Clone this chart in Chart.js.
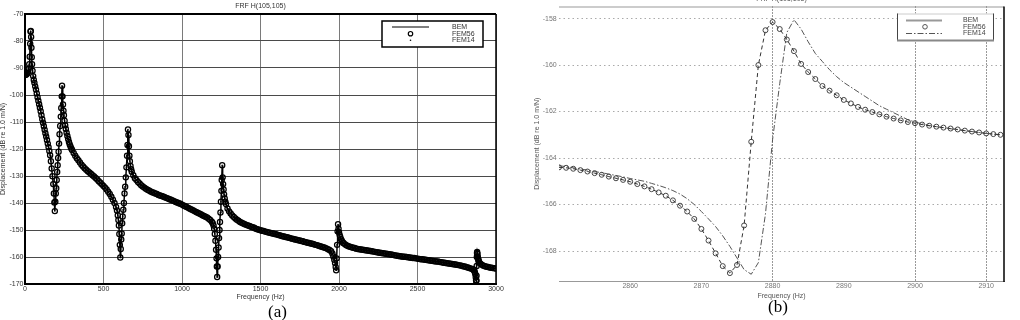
<!DOCTYPE html>
<html><head><meta charset="utf-8">
<script src="https://cdn.jsdelivr.net/npm/chart.js@4.4.1/dist/chart.umd.min.js"></script>
<style>
html,body{margin:0;padding:0;background:#fff;width:1020px;height:320px;overflow:hidden}
#wa{position:absolute;left:0;top:0;width:510px;height:320px}
#wb{position:absolute;left:510px;top:0;width:510px;height:320px}
.lab{position:absolute;font-family:"Liberation Serif","DejaVu Serif",serif;font-size:17px;line-height:17px;color:#000}
</style></head><body>
<div id="wa"><canvas id="ca" width="510" height="320"></canvas></div>
<div id="wb"><canvas id="cb" width="510" height="320"></canvas></div>
<div class="lab" style="left:268px;top:303px">(a)</div>
<div class="lab" style="left:768px;top:298px">(b)</div>
<script>
// ---------- (a) full-band FRF ----------
const freqA = [
 0,5,10,15,20,24,27,30,33,35,
 37,39,41,43,45,48,52,56,60,65,
 70,75,80,85,90,95,100,105,110,115,
 120,125,130,135,140,145,150,155,160,165,
 170,175,180,184,187,190,193,196,199,202,
 205,208,211,214,217,220,224,228,231,234,
 236,239,242,245,248,252,256,260,265,270,
 275,280,285,290,295,300,310,320,330,340,
 350,360,370,380,
 390,400,410,420,430,440,450,460,470,480,
 490,500,510,520,530,540,550,560,570,580,
 586,591,595,598,601,604,607,610,613,616,
 619,622,626,630,634,638,642,646,650,653,
 656,659,662,665,668,672,676,680,690,700,
 710,720,730,740,750,760,770,780,790,800,
 810,820,830,840,850,860,870,880,890,900,
 910,920,930,940,950,960,970,980,990,1000,
 1010,1020,1030,1040,1050,1060,1070,1080,1090,1100,
 1110,1120,1130,1140,1150,1160,1170,1180,1190,1196,
 1201,1205,1209,1213,1217,1220,1222,1224,1227,1230,
 1233,1236,1239,1242,1245,1248,1251,1253,1256,1259,
 1262,1265,1268,1272,1276,1280,1290,1300,1310,1320,
 1330,1340,1350,1360,1370,1380,1390,1400,1410,1420,
 1430,1440,1450,1460,1470,1480,1490,1500,1510,1520,
 1530,1540,1550,1560,1570,1580,1590,1600,1610,1620,
 1630,1640,1650,1660,1670,1680,1690,1700,1710,1720,
 1730,1740,1750,1760,1770,1780,1790,1800,1810,1820,
 1830,1840,1850,1860,1870,1880,1890,1900,1910,1920,
 1930,1940,1950,1958,1964,1970,1975,1979,1982,1985,
 1988,1991,1994,1997,2000,2004,2008,2013,2018,2025,
 2030,2040,2050,2060,2070,2080,2090,2100,2110,2120,
 2130,2140,2150,2160,2170,2180,2190,2200,2210,2220,
 2230,2240,2250,2260,2270,2280,2290,2300,2310,2320,
 2330,2340,2350,2360,2370,2380,2390,2400,2410,2420,
 2430,2440,2450,2460,2470,2480,2490,2500,2510,2520,
 2530,2540,2550,2560,2570,2580,2590,2600,2610,2620,
 2630,2640,2650,2660,2670,2680,2690,2700,2710,2720,
 2730,2740,2750,2760,2770,2780,2790,2800,2810,2820,
 2830,2840,2850,2855,2860,2865,2868,2871,2873,2874,
 2875,2876,2877,2878,2879,2880,2882,2884,2886,2888,
 2890,2895,2900,2910,2920,2930,2940,2950,2960,2970,
 2980,2990,3000
];
const bemA = [
 -92.6,-92.5,-92.3,-91.9,-91.3,-90.2,-88.6,-85.8,-81.0,-76.5,
 -76.3,-78.5,-82.5,-86.0,-88.6,-91.0,-93.0,-94.4,-95.5,-96.8,
 -98.0,-99.4,-100.8,-102.1,-103.4,-104.7,-106.0,-107.5,-109.0,-110.3,
 -111.6,-112.9,-114.2,-115.4,-116.7,-118.0,-119.3,-120.7,-122.3,-124.5,
 -127.2,-130.1,-133.0,-136.5,-139.8,-143.0,-139.5,-136.5,-134.5,-131.5,
 -128.5,-126.0,-123.3,-121.0,-118.0,-114.5,-111.5,-108.0,-104.8,-100.5,
 -96.6,-100.5,-103.5,-105.8,-107.5,-109.5,-111.2,-112.6,-114.0,-115.2,
 -116.3,-117.4,-118.3,-119.1,-119.8,-120.4,-121.5,-122.5,-123.4,-124.2,
 -125.0,-125.8,-126.5,-127.1,
 -127.7,-128.2,-128.7,-129.2,-129.7,-130.2,-130.7,-131.3,-131.9,-132.5,
 -133.1,-133.7,-134.3,-135.0,-135.8,-136.7,-137.7,-138.8,-140.0,-141.5,
 -142.8,-144.5,-146.3,-148.3,-151.5,-155.5,-160.2,-157.0,-153.5,-151.3,
 -147.5,-145.0,-142.5,-140.0,-136.5,-134.0,-130.5,-126.8,-122.5,-118.5,
 -112.8,-114.8,-119.0,-122.5,-124.5,-126.3,-127.5,-128.4,-129.7,-130.8,
 -131.5,-132.2,-132.8,-133.4,-133.9,-134.3,-134.7,-135.1,-135.4,-135.7,
 -136.0,-136.2,-136.5,-136.7,-137.0,-137.2,-137.4,-137.6,-137.9,-138.1,
 -138.3,-138.6,-138.8,-139.1,-139.3,-139.6,-139.8,-140.1,-140.3,-140.6,
 -140.9,-141.2,-141.5,-141.8,-142.1,-142.4,-142.7,-143.0,-143.3,-143.6,
 -143.9,-144.2,-144.5,-144.8,-145.1,-145.4,-145.8,-146.3,-146.9,-147.5,
 -148.3,-149.5,-151.5,-154.0,-157.3,-160.5,-163.5,-167.4,-163.5,-160.0,
 -156.5,-153.0,-150.0,-147.0,-143.5,-139.5,-135.5,-131.5,-126.0,-130.5,
 -133.0,-135.0,-136.8,-138.3,-139.5,-140.4,-142.0,-143.1,-143.9,-144.6,
 -145.2,-145.7,-146.2,-146.6,-147.0,-147.3,-147.6,-147.9,-148.1,-148.3,
 -148.5,-148.8,-149.0,-149.2,-149.5,-149.7,-149.9,-150.1,-150.3,-150.4,
 -150.6,-150.7,-150.9,-151.0,-151.2,-151.3,-151.5,-151.6,-151.8,-151.9,
 -152.1,-152.3,-152.4,-152.6,-152.7,-152.9,-153.0,-153.2,-153.3,-153.5,
 -153.6,-153.8,-153.9,-154.1,-154.2,-154.4,-154.5,-154.7,-154.8,-155.0,
 -155.1,-155.3,-155.5,-155.6,-155.8,-156.0,-156.2,-156.4,-156.6,-156.8,
 -157.1,-157.4,-157.9,-158.7,-159.8,-161.0,-162.2,-163.7,-164.9,-160.5,
 -155.5,-150.5,-147.9,-149.5,-150.8,-151.8,-152.6,-153.4,-154.0,-154.6,
 -154.9,-155.4,-155.7,-156.0,-156.2,-156.4,-156.6,-156.7,-156.9,-157.0,
 -157.1,-157.2,-157.3,-157.4,-157.5,-157.6,-157.7,-157.8,-157.9,-158.0,
 -158.1,-158.2,-158.3,-158.4,-158.5,-158.6,-158.7,-158.8,-158.9,-159.0,
 -159.1,-159.2,-159.3,-159.4,-159.5,-159.6,-159.7,-159.8,-159.9,-159.9,
 -160.0,-160.1,-160.2,-160.3,-160.4,-160.4,-160.5,-160.6,-160.7,-160.8,
 -160.8,-160.9,-161.0,-161.1,-161.2,-161.3,-161.4,-161.5,-161.6,-161.7,
 -161.7,-161.8,-161.9,-162.0,-162.1,-162.2,-162.3,-162.4,-162.5,-162.6,
 -162.7,-162.8,-162.9,-163.0,-163.1,-163.2,-163.4,-163.5,-163.7,-163.9,
 -164.1,-164.3,-164.4,-164.65,-165.0,-165.6,-166.3,-167.5,-168.6,-168.95,
 -168.6,-166.9,-163.3,-160.0,-158.5,-158.15,-158.9,-159.9,-160.6,-161.1,
 -161.5,-162.1,-162.5,-162.9,-163.2,-163.4,-163.6,-163.7,-163.9,-164.0,
 -164.1,-164.2,-164.3
];
// In (a) the two FE models lie on top of the BEM curve
const fem56A = bemA;
const fem14A = bemA;
const xTicksA = [0,500,1000,1500,2000,2500,3000];
const yTicksA = [-170,-160,-150,-140,-130,-120,-110,-100,-90,-80,-70];

// ---------- (b) zoom around 2880 Hz ----------
const freqB = [
 2850,2851,2852,2853,2854,2855,2856,2857,2858,2859,
 2860,2861,2862,2863,2864,2865,2866,2867,2868,2869,
 2870,2871,2872,2873,2874,2875,2876,2877,2878,2879,
 2880,2881,2882,2883,2884,2885,2886,2887,2888,2889,
 2890,2891,2892,2893,2894,2895,2896,2897,2898,2899,
 2900,2901,2902,2903,2904,2905,2906,2907,2908,2909,
 2910,2911,2912
];
const bemB = [
 -164.40,-164.42,-164.46,-164.52,-164.58,-164.65,-164.72,-164.80,-164.87,-164.94,
 -165.02,-165.12,-165.22,-165.34,-165.48,-165.62,-165.82,-166.05,-166.30,-166.62,
 -167.05,-167.55,-168.10,-168.65,-168.95,-168.60,-166.90,-163.30,-160.00,-158.50,
 -158.15,-158.45,-158.90,-159.40,-159.95,-160.30,-160.60,-160.90,-161.10,-161.30,
 -161.50,-161.65,-161.80,-161.92,-162.02,-162.12,-162.22,-162.30,-162.38,-162.45,
 -162.50,-162.56,-162.61,-162.65,-162.69,-162.73,-162.77,-162.82,-162.86,-162.90,
 -162.94,-162.97,-163.00
];
const fem56B = bemB;
const fem14B = [
 -164.33,-164.37,-164.42,-164.47,-164.52,-164.58,-164.63,-164.69,-164.75,-164.81,
 -164.88,-164.94,-165.00,-165.09,-165.18,-165.28,-165.40,-165.55,-165.75,-166.00,
 -166.30,-166.62,-166.95,-167.35,-167.80,-168.30,-168.80,-169.00,-168.50,-166.40,
 -163.20,-160.80,-158.60,-158.05,-158.45,-159.00,-159.50,-159.85,-160.20,-160.50,
 -160.75,-160.95,-161.15,-161.35,-161.55,-161.75,-161.90,-162.05,-162.20,-162.35,
 -162.45,-162.53,-162.60,-162.65,-162.70,-162.74,-162.78,-162.82,-162.86,-162.90,
 -162.94,-162.97,-163.00
];
const xTicksB = [2860,2870,2880,2890,2900,2910];
const xGridShownB = [2880,2900,2910];
const yTicksB = [-168,-166,-164,-162,-160,-158];

const titleText = 'FRF H(105,105)';
const xTitle = 'Frequency (Hz)';
const yTitle = 'Displacement (dB re 1.0 m/N)';
const seriesNames = ['BEM','FEM56','FEM14'];

const FONT = '"Liberation Sans", Arial, sans-serif';
const pts = (xs, ys) => xs.map((x, i) => ({x: x, y: ys[i]}));
const setTicks = arr => (s => { s.ticks = arr.map(v => ({value: v})); });

// ---------- chart (a) ----------
const plugA = {
  id: 'decorA',
  afterDraw(chart) {
    const c = chart.ctx, a = chart.chartArea;
    c.save();
    c.strokeStyle = '#000';
    c.lineWidth = 2;
    c.beginPath(); c.moveTo(a.left - 1, a.top); c.lineTo(a.right, a.top); c.stroke();
    c.lineWidth = 1.5;
    c.beginPath(); c.moveTo(a.right, a.top); c.lineTo(a.right, a.bottom); c.stroke();
    c.fillStyle = '#333';
    c.font = '7px ' + FONT;
    c.textAlign = 'center'; c.textBaseline = 'middle';
    c.fillText(titleText, (a.left + a.right) / 2, 6.5);
    const bx = a.right - 114, by = a.top + 7, bw = 101, bh = 26;
    c.fillStyle = '#fff';
    c.fillRect(bx, by, bw, bh);
    c.strokeStyle = '#000'; c.lineWidth = 1.5;
    c.strokeRect(bx, by, bw, bh);
    c.strokeStyle = '#555'; c.lineWidth = 1.5;
    c.beginPath(); c.moveTo(bx + 10, by + 6); c.lineTo(bx + 47, by + 6); c.stroke();
    c.strokeStyle = '#000'; c.lineWidth = 1.2;
    c.beginPath(); c.arc(bx + 28.5, by + 12.7, 2.2, 0, Math.PI * 2); c.stroke();
    c.fillStyle = '#000';
    c.beginPath(); c.arc(bx + 28.5, by + 19.3, 0.8, 0, Math.PI * 2); c.fill();
    c.fillStyle = '#333'; c.textAlign = 'left';
    c.fillText(seriesNames[0], bx + 70, by + 6);
    c.fillText(seriesNames[1], bx + 70, by + 12.7);
    c.fillText(seriesNames[2], bx + 70, by + 19.3);
    c.restore();
  }
};

new Chart(document.getElementById('ca'), {
  type: 'line',
  data: {
    datasets: [
      {label: seriesNames[0], data: pts(freqA, bemA), borderColor: '#000', borderWidth: 1.5,
       pointRadius: 0, tension: 0, fill: false},
      {label: seriesNames[1], data: pts(freqA, fem56A), showLine: false, pointRadius: 2.6,
       pointStyle: 'circle', pointBorderColor: '#000', pointBackgroundColor: 'rgba(0,0,0,0)', pointBorderWidth: 1.25},
      {label: seriesNames[2], data: pts(freqA, fem14A), showLine: false, pointRadius: 0.7,
       pointBorderWidth: 0, pointBackgroundColor: '#000'}
    ]
  },
  options: {
    responsive: false, animation: false, events: [], devicePixelRatio: 1,
    layout: {padding: {left: 0, right: 14, top: 14, bottom: 0}},
    plugins: {legend: {display: false}, title: {display: false}, tooltip: {enabled: false}},
    scales: {
      x: {
        type: 'linear', min: 0, max: 3000,
        afterBuildTicks: setTicks(xTicksA),
        afterFit: s => { s.height = 36; },
        ticks: {font: {family: FONT, size: 7}, color: '#333', padding: 1, maxRotation: 0, autoSkip: false,
                callback: v => String(v)},
        grid: {color: '#7a7a7a', lineWidth: 1, drawTicks: false},
        border: {color: '#000', width: 2},
        title: {display: true, text: xTitle, font: {family: FONT, size: 7}, color: '#333',
                padding: {top: 0, bottom: 18.3}}
      },
      y: {
        type: 'linear', min: -170, max: -70,
        afterBuildTicks: setTicks(yTicksA),
        afterFit: s => { s.width = 25; },
        ticks: {font: {family: FONT, size: 7}, color: '#333', padding: 1.5, autoSkip: false,
                callback: v => String(v)},
        grid: {color: '#4a4a4a', lineWidth: 1, drawTicks: false},
        border: {color: '#000', width: 2},
        title: {display: true, text: yTitle, font: {family: FONT, size: 7}, color: '#333',
                padding: {top: -1.2, bottom: 0}}
      }
    }
  },
  plugins: [plugA]
});

// ---------- chart (b) ----------
const plugB = {
  id: 'decorB',
  afterDraw(chart) {
    const c = chart.ctx, a = chart.chartArea;
    c.save();
    c.strokeStyle = '#999'; c.lineWidth = 1;
    c.beginPath(); c.moveTo(a.left, a.top + 0.5); c.lineTo(a.right, a.top + 0.5); c.stroke();
    c.strokeStyle = '#000'; c.lineWidth = 1.5;
    c.beginPath(); c.moveTo(a.right, a.top); c.lineTo(a.right, a.bottom + 1); c.stroke();
    c.fillStyle = '#555';
    c.font = '7px ' + FONT;
    c.textAlign = 'center'; c.textBaseline = 'middle';
    c.fillText(titleText, (a.left + a.right) / 2, -0.5);
    const bx = a.right - 107, by = a.top + 7, bw = 97, bh = 27;
    c.fillStyle = '#fff';
    c.fillRect(bx, by, bw, bh);
    c.strokeStyle = '#ccc'; c.lineWidth = 1;
    c.beginPath(); c.moveTo(bx, by + 0.5); c.lineTo(bx + bw, by + 0.5); c.stroke();
    c.strokeStyle = '#444';
    c.beginPath(); c.moveTo(bx + 0.5, by); c.lineTo(bx + 0.5, by + bh); c.stroke();
    c.beginPath(); c.moveTo(bx + bw - 0.5, by); c.lineTo(bx + bw - 0.5, by + bh); c.stroke();
    c.strokeStyle = '#888'; c.lineWidth = 2;
    c.beginPath(); c.moveTo(bx, by + bh); c.lineTo(bx + bw, by + bh); c.stroke();
    c.strokeStyle = '#999'; c.lineWidth = 2;
    c.beginPath(); c.moveTo(bx + 9, by + 7); c.lineTo(bx + 45, by + 7); c.stroke();
    c.strokeStyle = '#555'; c.lineWidth = 1;
    c.beginPath(); c.arc(bx + 28, by + 13.3, 2.3, 0, Math.PI * 2); c.stroke();
    c.setLineDash([6, 2, 1.5, 2]);
    c.beginPath(); c.moveTo(bx + 9, by + 20); c.lineTo(bx + 45, by + 20); c.stroke();
    c.setLineDash([]);
    c.fillStyle = '#444'; c.textAlign = 'left';
    c.fillText(seriesNames[0], bx + 66, by + 7);
    c.fillText(seriesNames[1], bx + 66, by + 13.5);
    c.fillText(seriesNames[2], bx + 66, by + 20);
    c.restore();
  }
};

new Chart(document.getElementById('cb'), {
  type: 'line',
  data: {
    datasets: [
      {label: seriesNames[0], data: pts(freqB, bemB), borderColor: '#333', borderWidth: 1,
       borderDash: [4, 3], pointRadius: 0, tension: 0, fill: false},
      {label: seriesNames[1], data: pts(freqB, fem56B), showLine: false, pointRadius: 2.5,
       pointStyle: 'circle', pointBorderColor: '#444', pointBackgroundColor: 'rgba(0,0,0,0)', pointBorderWidth: 1},
      {label: seriesNames[2], data: pts(freqB, fem14B), borderColor: '#555', borderWidth: 1,
       borderDash: [6, 2, 1.5, 2], pointRadius: 0, tension: 0, fill: false}
    ]
  },
  options: {
    responsive: false, animation: false, events: [], devicePixelRatio: 1,
    layout: {padding: {left: 0, right: 16, top: 6, bottom: 0}},
    plugins: {legend: {display: false}, title: {display: false}, tooltip: {enabled: false}},
    scales: {
      x: {
        type: 'linear', min: 2850, max: 2912.5,
        afterBuildTicks: setTicks(xTicksB),
        afterFit: s => { s.height = 39; },
        ticks: {font: {family: FONT, size: 7}, color: '#777', padding: 0.5, maxRotation: 0, autoSkip: false,
                callback: v => String(v)},
        grid: {color: ctx => (ctx.tick && xGridShownB.includes(ctx.tick.value)) ? '#333' : 'rgba(0,0,0,0)',
               lineWidth: 1, drawTicks: false},
        border: {display: true, color: '#999', width: 1, dash: [1, 2]},
        title: {display: true, text: xTitle, font: {family: FONT, size: 7}, color: '#555',
                padding: {top: 0, bottom: 20}}
      },
      y: {
        type: 'linear', min: -169.29, max: -157.48,
        afterBuildTicks: setTicks(yTicksB),
        afterFit: s => { s.width = 49; },
        ticks: {font: {family: FONT, size: 7}, color: '#777', padding: 2.3, autoSkip: false,
                callback: v => String(v)},
        grid: {color: '#aaa', lineWidth: 1, drawTicks: false},
        border: {display: false, dash: [1.5, 3]},
        title: {display: true, text: yTitle, font: {family: FONT, size: 7}, color: '#555',
                padding: {top: 22.5, bottom: 0}}
      }
    }
  },
  plugins: [plugB]
});
</script>
</body></html>
